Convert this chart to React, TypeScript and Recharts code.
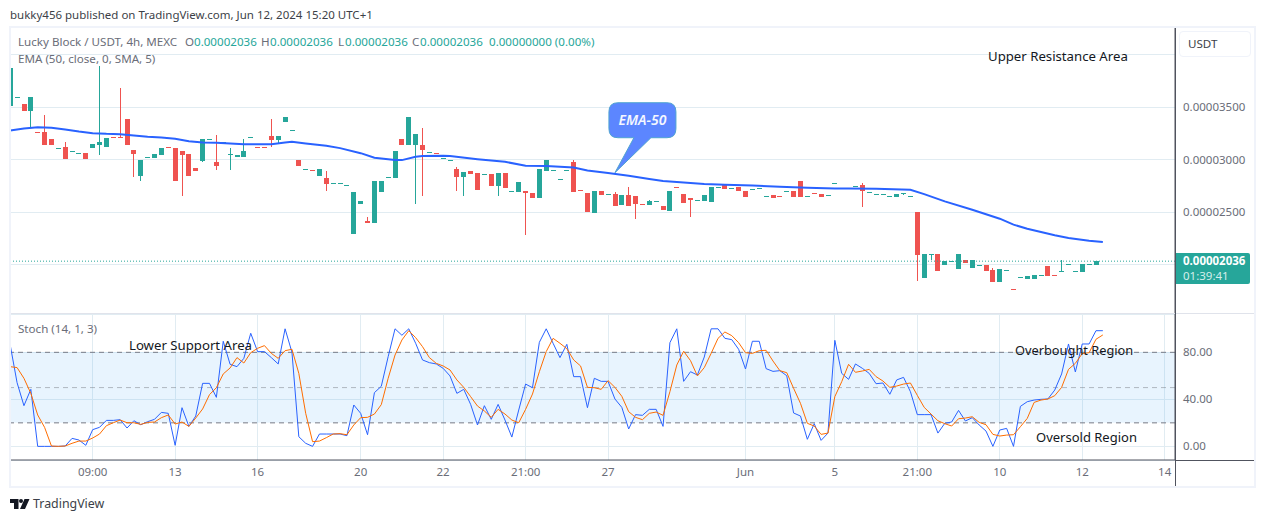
import React from 'react';
import {
  ComposedChart,
  Bar,
  Line,
  XAxis,
  YAxis,
  CartesianGrid,
  ReferenceLine,
  ReferenceArea,
  ReferenceDot,
} from 'recharts';

// prices are stored in units of 0.00000001 USDT
const opens = [
  3513, 3591, 3532, 3465, 3264, 3266, 3200, 3113, 3124, 3081,
  3062, 3067, 3114, 3143, 3124, 3220, 3220, 3389, 3095, 2848,
  3028, 3019, 3048, 3125, 3114, 3086, 3057, 2924, 2991, 3195,
  2981, 3167, 3053, 3029, 3029, 3218, 3125, 3125, 3228, 3190,
  3361, 3281, 3000, 2911, 2906, 2848, 2829, 2778, 2778, 2759,
  2298, 2582, 2421, 2402, 2696, 2835, 2829, 3200, 3143, 3143,
  3143, 3072, 3064, 3015, 2996, 2915, 2839, 2896, 2877, 2863,
  2867, 2753, 2877, 2702, 2696, 2706, 2687, 2639, 2896, 2901,
  2816, 2901, 2981, 2713, 2687, 2497, 2706, 2673, 2677, 2573,
  2668, 2658, 2580, 2573, 2607, 2563, 2516, 2742, 2677, 2639,
  2616, 2611, 2601, 2740, 2763, 2730, 2744, 2706, 2721, 2730,
  2654, 2668, 2656, 2702, 2706, 2801, 2654, 2685, 2677, 2664,
  2778, 2730, 2730, 2752, 2756, 2689, 2673, 2673, 2654, 2652,
  2683, 2654, 2506, 1880, 2103, 2108, 2003, 2040, 1965, 2051,
  1975, 1999, 2003, 1956, 1842, 1952, 1773, 1885, 1870, 1870,
  1904, 1994, 1906, 1942, 2008, 1942, 1937, 2008, 2003, 2036,
];
const highs = [
  3988, 3593, 3532, 3598, 3264, 3427, 3200, 3115, 3171, 3083,
  3064, 3067, 3152, 3893, 3209, 3220, 3684, 3389, 3095, 3000,
  3030, 3057, 3114, 3125, 3114, 3086, 3057, 2924, 3200, 3197,
  3238, 3169, 3114, 3048, 3200, 3220, 3125, 3125, 3389, 3228,
  3408, 3283, 3000, 2913, 2906, 2915, 2896, 2780, 2780, 2761,
  2696, 2611, 2459, 2801, 2801, 2837, 3086, 3200, 3408, 3247,
  3304, 3074, 3064, 3017, 2998, 2934, 2886, 2896, 2877, 2865,
  2867, 2877, 2877, 2704, 2791, 2706, 2687, 2915, 3000, 2903,
  2818, 2903, 3000, 2713, 2687, 2706, 2706, 2675, 2696, 2668,
  2744, 2658, 2580, 2620, 2609, 2563, 2706, 2742, 2677, 2639,
  2618, 2668, 2744, 2742, 2763, 2732, 2744, 2706, 2723, 2732,
  2656, 2668, 2656, 2704, 2706, 2801, 2656, 2685, 2677, 2666,
  2780, 2732, 2732, 2754, 2779, 2691, 2675, 2675, 2656, 2677,
  2685, 2656, 2506, 2108, 2105, 2108, 2041, 2042, 2108, 2051,
  2051, 2001, 2003, 1975, 1965, 1954, 1773, 1887, 1899, 1908,
  1906, 1994, 1906, 2051, 2010, 1944, 2013, 2010, 2038, 2036,
];
const lows = [
  3513, 3591, 3465, 3307, 3262, 3143, 3143, 3113, 3010, 3081,
  3062, 3010, 3114, 3048, 3124, 3218, 3218, 3143, 2839, 2801,
  3028, 3019, 3048, 3123, 2801, 2658, 2848, 2896, 2981, 3195,
  2905, 3167, 2905, 3029, 3029, 3218, 3123, 3123, 3124, 3152,
  3361, 3281, 2943, 2911, 2904, 2848, 2706, 2778, 2778, 2759,
  2298, 2582, 2402, 2402, 2696, 2835, 2829, 3143, 3143, 2582,
  2658, 3072, 3062, 3015, 2996, 2706, 2658, 2867, 2715, 2863,
  2753, 2658, 2734, 2702, 2696, 2288, 2639, 2639, 2896, 2901,
  2816, 2901, 2696, 2711, 2506, 2497, 2668, 2673, 2563, 2573,
  2563, 2440, 2578, 2573, 2607, 2525, 2516, 2740, 2592, 2459,
  2616, 2611, 2601, 2740, 2725, 2730, 2706, 2649, 2721, 2730,
  2654, 2639, 2654, 2702, 2649, 2649, 2654, 2683, 2649, 2664,
  2778, 2730, 2730, 2752, 2548, 2689, 2673, 2673, 2654, 2652,
  2665, 2654, 1851, 1880, 2051, 1946, 2003, 2040, 1965, 2022,
  1975, 1999, 1946, 1842, 1842, 1952, 1771, 1885, 1870, 1870,
  1904, 1899, 1904, 1942, 2008, 1942, 1937, 2008, 2003, 2036,
];
const closes = [
  3874, 3593, 3465, 3598, 3262, 3143, 3143, 3115, 3010, 3083,
  3064, 3010, 3152, 3171, 3209, 3218, 3218, 3143, 3057, 3000,
  3030, 3057, 3114, 3123, 2801, 3048, 2848, 2896, 3200, 3197,
  2943, 3169, 3055, 3048, 3086, 3220, 3123, 3123, 3190, 3228,
  3408, 3283, 2943, 2913, 2904, 2915, 2772, 2780, 2780, 2761,
  2696, 2611, 2402, 2801, 2801, 2837, 3086, 3143, 3408, 3247,
  3095, 3074, 3062, 3017, 2998, 2839, 2886, 2867, 2715, 2865,
  2753, 2877, 2734, 2704, 2791, 2687, 2639, 2915, 3000, 2903,
  2818, 2903, 2696, 2711, 2506, 2706, 2668, 2675, 2563, 2668,
  2563, 2582, 2578, 2611, 2609, 2525, 2706, 2740, 2592, 2620,
  2618, 2668, 2744, 2742, 2725, 2732, 2706, 2649, 2723, 2732,
  2656, 2639, 2654, 2704, 2649, 2649, 2656, 2683, 2649, 2666,
  2780, 2732, 2732, 2754, 2699, 2691, 2675, 2675, 2656, 2677,
  2685, 2656, 2098, 2108, 2105, 1946, 2041, 2042, 2108, 2022,
  2051, 2001, 1946, 1842, 1965, 1954, 1771, 1887, 1899, 1908,
  1906, 1899, 1904, 1944, 2010, 1944, 2013, 2010, 2038, 2036,
];

// EMA at the candles where it bends
const emaIndex = [
  0, 2, 4, 6, 8, 10, 12, 14, 16, 18, 20, 22, 24, 26, 28, 30, 32, 34, 36, 38,
  40, 41, 43, 46, 48, 51, 53, 56, 57, 59, 60, 63, 64, 68, 72, 75, 78, 82, 84, 87,
  90, 93, 95, 98, 101, 104, 108, 112, 116, 120, 122, 126, 131, 133, 136, 140, 144, 146, 148, 150,
  152, 154, 157, 159,
];
const emaValues = [
  3279, 3298, 3310, 3304, 3288, 3269, 3253, 3247, 3244, 3231, 3219, 3212, 3200, 3177, 3165, 3162, 3155, 3149, 3149, 3149,
  3165, 3171, 3155, 3133, 3111, 3063, 3019, 2997, 2997, 3029, 3035, 3038, 3035, 3006, 2981, 2943, 2940, 2927, 2899, 2874,
  2848, 2817, 2798, 2785, 2769, 2763, 2756, 2744, 2734, 2728, 2728, 2725, 2715, 2674, 2605, 2525, 2440, 2383, 2345, 2313,
  2282, 2256, 2231, 2218,
];

const stochK = [
  86.2, 54.2, 34.6, 48.5, 0, 0, 0, 0, 0.3, 6.8,
  5.4, 0.9, 14.2, 16.2, 22.1, 22.1, 22.7, 15.6, 21.8, 18.4,
  21.0, 23.0, 28.9, 28.1, 0.9, 32.9, 17.0, 25.8, 53.6, 53.6,
  41.7, 89.4, 69.8, 67.8, 74.9, 96.2, 80.6, 80.6, 75.5, 70.1,
  100, 80.0, 8.2, 2.6, 0, 10.5, 10.5, 10.5, 10.5, 9.1,
  35.2, 28.1, 9.9, 45.7, 51.1, 76.3, 100, 94.5, 100, 87.7,
  73.5, 71.2, 70.1, 66.4, 59.9, 45.1, 48.5, 35.7, 18.2, 34.6,
  23.0, 35.7, 22.4, 7.9, 30.9, 53.0, 49.9, 88.5, 100, 87.7,
  75.5, 86.8, 59.3, 59.3, 32.9, 57.9, 55.3, 55.3, 40.3, 33.2,
  14.8, 27.0, 26.4, 31.5, 31.5, 17.0, 88.2, 100, 55.3, 63.5,
  60.7, 76.0, 100, 100, 91.9, 90.8, 82.6, 65.8, 89.4, 89.4,
  66.1, 63.8, 64.4, 60.1, 28.4, 25.8, 6.0, 19.3, 5.1, 11.3,
  90.2, 62.1, 57.0, 70.1, 66.4, 62.1, 53.3, 53.9, 44.3, 56.5,
  58.7, 46.5, 27.0, 27.0, 27.0, 11.3, 19.6, 20.7, 30.6, 21.6,
  24.4, 18.2, 13.0, 0, 13.9, 15.3, 0, 34.0, 38.0, 39.4,
  40.0, 40.3, 47.9, 61.6, 87.1, 63.3, 87.1, 87.1, 98.4, 98.4,
];
const stochD = [
  67.8, 67.0, 57.9, 45.1, 26.7, 16.2, 0.3, 0, 0.3, 2.6,
  4.5, 4.5, 7.1, 10.5, 17.6, 20.1, 22.4, 20.1, 20.1, 18.7,
  20.4, 20.7, 24.4, 26.7, 19.0, 20.7, 17.0, 24.1, 31.8, 44.0,
  49.9, 61.6, 66.7, 75.5, 70.9, 79.7, 83.4, 85.7, 79.1, 74.9,
  81.4, 82.6, 62.1, 28.1, 4.0, 4.5, 7.4, 10.5, 10.8, 9.9,
  18.2, 24.4, 24.7, 27.5, 35.5, 57.9, 77.7, 90.5, 98.4, 92.5,
  84.8, 75.5, 70.6, 68.4, 65.0, 56.5, 50.2, 42.3, 34.3, 30.1,
  24.7, 31.5, 27.5, 22.4, 20.1, 31.5, 44.5, 63.5, 80.6, 91.9,
  87.7, 83.1, 73.5, 68.4, 50.2, 49.9, 48.5, 55.9, 50.2, 42.6,
  29.5, 24.7, 22.7, 28.1, 29.2, 26.4, 46.5, 69.2, 80.9, 72.9,
  59.9, 67.0, 79.1, 91.9, 97.3, 94.2, 88.2, 79.7, 79.1, 81.4,
  81.7, 72.6, 64.4, 62.7, 49.4, 36.6, 19.6, 17.3, 10.2, 11.3,
  42.3, 55.0, 69.8, 63.0, 64.1, 65.5, 59.3, 55.6, 50.2, 51.3,
  53.0, 53.9, 43.4, 33.2, 27.5, 21.8, 19.3, 17.3, 23.5, 24.1,
  25.2, 20.4, 18.4, 10.2, 8.8, 9.6, 9.9, 16.7, 23.8, 37.4,
  39.4, 40.3, 43.1, 50.2, 65.5, 70.6, 78.9, 79.7, 91.1, 94.8,
];

const timeTicks = [12, 24, 36, 51, 63, 75, 87, 107, 120, 132, 144, 156, 168];
const timeLabels = ['09:00', '13', '16', '20', '22', '21:00', '27', 'Jun', '5', '21:00', '10', '12', '14'];
const priceTicks = [2000, 2500, 3000, 3500, 4000];
const priceLabelled = [2500, 3000, 3500];
const stochTicks = [0, 40, 80];
const lastPrice = 2036;

const candleRows = opens.map((open, i) => ({
  i,
  open,
  close: closes[i],
  high: highs[i],
  low: lows[i],
  range: [lows[i], highs[i]],
  ema: emaIndex.includes(i) ? emaValues[emaIndex.indexOf(i)] : null,
}));
const stochRows = stochK.map((k, i) => ({ i, k, d: stochD[i] }));

const UP = '#26a69a';
const DOWN = '#ef5350';
const GRID = '#e1ecf2';
const AXIS = '#50535e';
const FONT = '"Noto Sans", sans-serif';
const X_DOMAIN: [number, number] = [-0.03, 169.5];

const formatPrice = (v: number) => (v / 1e8).toFixed(8);

// wick and body of one candle, scaled from the pixel box of the [low, high] bar
const Candle = (props: any) => {
  const { x, y, width, height, payload } = props;
  const { open, close, high, low } = payload;
  const color = close >= open ? UP : DOWN;
  const perUnit = height / (high - low);
  const bodyTop = y + (high - Math.max(open, close)) * perUnit;
  const bodyH = Math.max(1, Math.abs(open - close) * perUnit);
  const cx = Math.round(x + width / 2 - 0.5);
  return (
    <g shapeRendering="crispEdges">
      <rect x={cx} y={y} width={1} height={height} fill={color} />
      <rect x={cx - 2} y={Math.round(bodyTop)} width={5} height={Math.max(1, Math.round(bodyH))} fill={color} />
    </g>
  );
};

// speech bubble whose tip sits on the EMA
const EmaCallout = (props: any) => {
  const { cx, cy } = props;
  const l = cx - 6;
  const t = cy - 70;
  const w = 67;
  const h = 35;
  const r = 9;
  const d = `M${l + r},${t} H${l + w - r} Q${l + w},${t} ${l + w},${t + r} V${t + h - r} Q${l + w},${t + h} ${l + w - r},${t + h}
    H${l + 42} L${cx},${cy} L${l + 25},${t + h} H${l + r} Q${l},${t + h} ${l},${t + h - r} V${t + r} Q${l},${t} ${l + r},${t} Z`;
  return (
    <g>
      <path d={d} fill="#5c86ff" stroke="#4fa3d1" strokeWidth={1} />
      <text x={l + w / 2} y={t + 22} textAnchor="middle" fill="#f4f7ff" fontFamily={FONT} fontSize={14} fontStyle="italic" fontWeight={600}>
        EMA-50
      </text>
    </g>
  );
};

const Txt = ({ x, y, size = 11.6, color = '#6a6d78', weight = 400, children }: any) => (
  <div
    style={{
      position: 'absolute',
      left: x,
      top: y,
      fontFamily: FONT,
      fontSize: size,
      color,
      fontWeight: weight,
      lineHeight: '14px',
      whiteSpace: 'nowrap',
    }}
  >
    {children}
  </div>
);

export default function App() {
  const tickStyle = { fill: '#6a6d78', fontSize: 11.5, fontFamily: FONT };
  return (
    <div style={{ position: 'absolute', left: 0, top: 0, width: 1265, height: 522, background: '#fff', overflow: 'hidden' }}>
      <Txt x={10} y={8} size={11.5} color="#3c3f48">bukky456 published on TradingView.com, Jun 12, 2024 15:20 UTC+1</Txt>

      <div style={{ position: 'absolute', left: 10, top: 27 }}>
        <ComposedChart width={1245} height={286} data={candleRows} margin={{ top: 0, right: 0, bottom: 0, left: 0 }}>
          <CartesianGrid stroke={GRID} strokeWidth={1} shapeRendering="crispEdges" />
          <XAxis
            dataKey="i"
            type="number"
            domain={X_DOMAIN}
            allowDataOverflow
            ticks={timeTicks}
            interval={0}
            height={0}
            tick={false}
            axisLine={false}
            tickLine={false}
          />
          <YAxis
            orientation="right"
            width={80}
            domain={[1543, 4263]}
            allowDataOverflow
            ticks={priceTicks}
            interval={0}
            axisLine={{ stroke: AXIS }}
            tickLine={false}
            tickMargin={2}
            tick={tickStyle}
            tickFormatter={(v: number) => (priceLabelled.includes(v) ? formatPrice(v) : '')}
          />
          <Bar dataKey="range" barSize={5} shape={Candle} isAnimationActive={false} />
          <Line dataKey="ema" type="linear" stroke="#2962ff" strokeWidth={2} dot={false} connectNulls isAnimationActive={false} />
          <ReferenceLine y={lastPrice} stroke={UP} strokeDasharray="1 2" />
          <ReferenceDot x={88} y={2877} r={0} shape={EmaCallout} />
        </ComposedChart>
      </div>

      <div style={{ position: 'absolute', left: 10, top: 314 }}>
        <ComposedChart width={1245} height={173} data={stochRows} margin={{ top: 0, right: 0, bottom: 0, left: 0 }}>
          <CartesianGrid stroke={GRID} strokeWidth={1} shapeRendering="crispEdges" />
          <XAxis
            dataKey="i"
            type="number"
            domain={X_DOMAIN}
            allowDataOverflow
            ticks={timeTicks}
            interval={0}
            height={27}
            axisLine={{ stroke: AXIS }}
            tickLine={false}
            tickMargin={2}
            tick={tickStyle}
            tickFormatter={(v: number) => timeLabels[timeTicks.indexOf(v)]}
          />
          <YAxis
            orientation="right"
            width={80}
            domain={[-11.6, 112.6]}
            allowDataOverflow
            ticks={stochTicks}
            interval={0}
            axisLine={{ stroke: AXIS }}
            tickLine={false}
            tickMargin={2}
            tick={tickStyle}
            tickFormatter={(v: number) => v.toFixed(2)}
          />
          <ReferenceArea y1={20} y2={80} fill="#2196f3" fillOpacity={0.1} stroke="none" />
          <ReferenceLine y={80} stroke="#787b86" strokeDasharray="5 4" />
          <ReferenceLine y={50} stroke="#787b86" strokeOpacity={0.5} strokeDasharray="5 4" />
          <ReferenceLine y={20} stroke="#787b86" strokeDasharray="5 4" />
          <Line dataKey="k" type="linear" stroke="#2962ff" strokeWidth={1} dot={false} isAnimationActive={false} />
          <Line dataKey="d" type="linear" stroke="#ff6d00" strokeWidth={1} dot={false} isAnimationActive={false} />
        </ComposedChart>
      </div>

      {/* separators and frame */}
      <div style={{ position: 'absolute', left: 10, top: 313, width: 1245, height: 1, background: '#e0e3eb' }} />
      <div style={{ position: 'absolute', left: 1175, top: 27, width: 1, height: 460, background: AXIS }} />
      <div style={{ position: 'absolute', left: 1175, top: 460, width: 80, height: 1, background: AXIS }} />
      <div style={{ position: 'absolute', left: 9, top: 26, width: 1247, height: 462, boxSizing: 'border-box', border: '2px solid #f0f3fa' }} />

      {/* pane legends */}
      <Txt x={18} y={35}>Lucky Block / USDT, 4h, MEXC</Txt>
      <Txt x={185} y={35}>O</Txt>
      <Txt x={194} y={35} color={UP}>0.00002036</Txt>
      <Txt x={261} y={35}>H</Txt>
      <Txt x={270} y={35} color={UP}>0.00002036</Txt>
      <Txt x={338} y={35}>L</Txt>
      <Txt x={345} y={35} color={UP}>0.00002036</Txt>
      <Txt x={412} y={35}>C</Txt>
      <Txt x={420} y={35} color={UP}>0.00002036</Txt>
      <Txt x={489} y={35} color={UP}>0.00000000 (0.00%)</Txt>
      <Txt x={18} y={52}>EMA (50, close, 0, SMA, 5)</Txt>
      <Txt x={18} y={322}>Stoch (14, 1, 3)</Txt>

      {/* drawn annotations */}
      <Txt x={988} y={49} size={13.2} color="#131722">Upper Resistance Area</Txt>
      <Txt x={129} y={338} size={13.2} color="#131722">Lower Support Area</Txt>
      <Txt x={1015} y={343} size={12.8} color="#131722">Overbought Region</Txt>
      <Txt x={1036} y={430} size={13} color="#131722">Oversold Region</Txt>

      {/* price scale chips */}
      <div style={{ position: 'absolute', left: 1179, top: 31, width: 72, height: 26, boxSizing: 'border-box', border: '1px solid #f0f3fa', borderRadius: 4, background: '#fff' }} />
      <Txt x={1188} y={37} color="#3c3f48">USDT</Txt>
      <div style={{ position: 'absolute', left: 1176, top: 253, width: 74, height: 31, background: UP, borderRadius: '0 2px 2px 0' }} />
      <Txt x={1183} y={254} size={11.5} color="#fff" weight={700}>0.00002036</Txt>
      <Txt x={1183} y={269} size={11.5} color="#d4eeeb">01:39:41</Txt>

      {/* footer */}
      <svg style={{ position: 'absolute', left: 10, top: 499 }} width={20} height={11}>
        <path d="M0,0 H8.5 V10 H4 V4 H0 Z M14.5,0 H19.5 L15,10 H10 Z" fill="#131722" />
        <circle cx={11} cy={2} r={2} fill="#131722" />
      </svg>
      <Txt x={33} y={497} size={12.4} color="#3c3f48">TradingView</Txt>
    </div>
  );
}
